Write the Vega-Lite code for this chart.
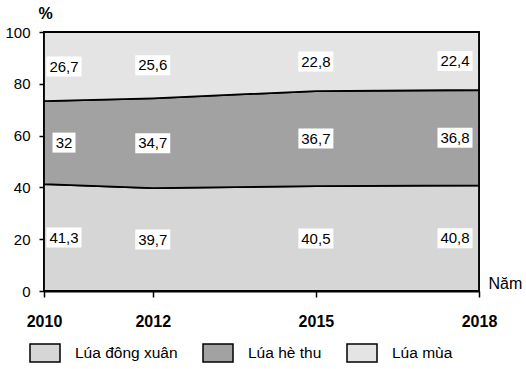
{
  "$schema": "https://vega.github.io/schema/vega-lite/v6.json",
  "width": 435,
  "height": 259,
  "autosize": "none",
  "padding": {"left": 44, "top": 32, "right": 47, "bottom": 78},
  "config": {
    "font": "Liberation Sans",
    "view": {"stroke": "black", "strokeWidth": 1.5},
    "axis": {"labelColor": "black", "titleColor": "black", "domainColor": "black", "tickColor": "black", "grid": false, "labelFont": "Liberation Sans", "titleFont": "Liberation Sans"},
    "legend": {"labelFont": "Liberation Sans"}
  },
  "data": {
    "values": [
      {"year": 2010, "type": "Lúa đông xuân", "order": 1, "value": 41.3},
      {"year": 2010, "type": "Lúa hè thu", "order": 2, "value": 32},
      {"year": 2010, "type": "Lúa mùa", "order": 3, "value": 26.7},
      {"year": 2012, "type": "Lúa đông xuân", "order": 1, "value": 39.7},
      {"year": 2012, "type": "Lúa hè thu", "order": 2, "value": 34.7},
      {"year": 2012, "type": "Lúa mùa", "order": 3, "value": 25.6},
      {"year": 2015, "type": "Lúa đông xuân", "order": 1, "value": 40.5},
      {"year": 2015, "type": "Lúa hè thu", "order": 2, "value": 36.7},
      {"year": 2015, "type": "Lúa mùa", "order": 3, "value": 22.8},
      {"year": 2018, "type": "Lúa đông xuân", "order": 1, "value": 40.8},
      {"year": 2018, "type": "Lúa hè thu", "order": 2, "value": 36.8},
      {"year": 2018, "type": "Lúa mùa", "order": 3, "value": 22.4}
    ]
  },
  "transform": [
    {"stack": "value", "groupby": ["year"], "sort": [{"field": "order", "order": "ascending"}], "as": ["y0", "y1"]},
    {"calculate": "(datum.y0 + datum.y1) / 2", "as": "mid"},
    {"calculate": "replace(toString(datum.value), '.', ',')", "as": "label"}
  ],
  "encoding": {
    "x": {
      "field": "year", "type": "quantitative",
      "scale": {"domain": [2010, 2018], "nice": false, "zero": false},
      "axis": {"values": [2010, 2012, 2015, 2018], "format": "d", "labelFlush": false, "title": "Năm", "titleFontSize": 16, "titleFontWeight": "normal", "titleX": 444, "titleY": -3, "titleAlign": "left", "titleBaseline": "alphabetic", "labelFontSize": 16, "labelFontWeight": "bold", "tickSize": 6, "labelPadding": 16, "domainWidth": 2, "tickWidth": 1.5}
    }
  },
  "layer": [
    {
      "mark": {"type": "area", "opacity": 1, "stroke": "black", "strokeWidth": 1.8, "interpolate": "linear"},
      "encoding": {
        "y": {
          "field": "y1", "type": "quantitative", "stack": null,
          "scale": {"domain": [0, 100], "nice": false},
          "axis": {"values": [0, 20, 40, 60, 80, 100], "title": "%", "titleAngle": 0, "titleFontSize": 16, "titleFontWeight": "bold", "titleX": 1, "titleY": -14, "titleAlign": "center", "titleBaseline": "alphabetic", "labelFontSize": 15, "tickSize": 5, "labelPadding": 9, "domainWidth": 2, "tickWidth": 1.5}
        },
        "y2": {"field": "y0"},
        "color": {
          "field": "type", "type": "nominal",
          "scale": {"domain": ["Lúa đông xuân", "Lúa hè thu", "Lúa mùa"], "range": ["#d6d6d6", "#a2a2a2", "#e4e4e4"]},
          "legend": {"title": null, "orient": "none", "legendX": -15, "legendY": 305, "direction": "horizontal", "columns": 3, "columnPadding": 22, "symbolType": "M-1,-0.6H1V0.6H-1Z", "symbolSize": 900, "symbolStrokeColor": "black", "symbolStrokeWidth": 1.5, "symbolOpacity": 1, "labelFontSize": 15.5, "labelColor": "black", "labelOffset": 14, "padding": 0, "labelLimit": 300}
        }
      }
    },
    {
      "mark": {"type": "point", "filled": true, "fill": "white", "opacity": 1, "strokeWidth": 0, "size": 400},
      "encoding": {
        "y": {"field": "mid", "type": "quantitative"},
        "shape": {
          "condition": [
            {"test": "datum.year == 2010 && datum.label == '32'", "value": "M0.85,-1H3.15V1H0.85Z"},
            {"test": "datum.year == 2010", "value": "M0.25,-1H3.75V1H0.25Z"},
            {"test": "datum.year == 2018", "value": "M-4.15,-1H-0.65V1H-4.15Z"}
          ],
          "value": "M-1.75,-1H1.75V1H-1.75Z"
        }
      }
    },
    {
      "transform": [{"filter": "datum.year == 2010"}],
      "mark": {"type": "text", "fontSize": 15, "color": "black", "align": "center", "baseline": "middle", "dx": 20},
      "encoding": {"y": {"field": "mid", "type": "quantitative"}, "text": {"field": "label"}}
    },
    {
      "transform": [{"filter": "datum.year == 2018"}],
      "mark": {"type": "text", "fontSize": 15, "color": "black", "align": "center", "baseline": "middle", "dx": -24},
      "encoding": {"y": {"field": "mid", "type": "quantitative"}, "text": {"field": "label"}}
    },
    {
      "transform": [{"filter": "datum.year != 2010 && datum.year != 2018"}],
      "mark": {"type": "text", "fontSize": 15, "color": "black", "align": "center", "baseline": "middle"},
      "encoding": {"y": {"field": "mid", "type": "quantitative"}, "text": {"field": "label"}}
    }
  ]
}
